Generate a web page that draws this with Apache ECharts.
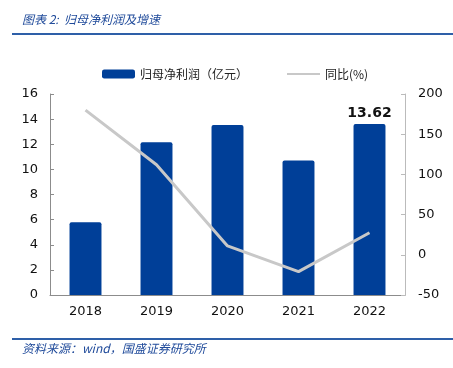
<!DOCTYPE html>
<html><head><meta charset="utf-8">
<script src="https://cdn.jsdelivr.net/npm/echarts@6/dist/echarts.min.js"></script>
<style>html,body{margin:0;padding:0;background:#fff}#c{width:453px;height:368px}</style>
</head><body><div id="c"></div>
<script>
const categories = ['2018','2019','2020','2021','2022'];
const profit = [5.8, 12.15, 13.53, 10.7, 13.62];
const growth = [180, 112, 11, -21, 27.5];
const leftTicks = [0, 16, 2];
const rightTicks = [-50, 200, 50];
const seriesNames = ['归母净利润（亿元）', '同比(%)'];

const chart = echarts.init(document.getElementById('c'));
const blue = '#003F98';
const titleBlue = '#1F4A9A';
const axisGray = '#8C8C8C';
const font = '"Noto Sans CJK SC", "DejaVu Sans", sans-serif';
chart.setOption({
  animation: false,
  textStyle: { fontFamily: font },
  graphic: [
    { type: 'text', left: 22, top: 13, style: { text: '图表 2:  归母净利润及增速', fill: titleBlue, font: 'italic 12px "Noto Sans CJK SC"' } },
    { type: 'rect', shape: { x: 12, y: 33, width: 441, height: 2 }, style: { fill: '#2E5FA8' } },
    { type: 'rect', shape: { x: 12, y: 338, width: 441, height: 2 }, style: { fill: '#2E5FA8' } },
    { type: 'text', left: 22, top: 342, style: { text: '资料来源：wind，国盛证券研究所', fill: titleBlue, font: 'italic 12px "Noto Sans CJK SC"' } }
  ],
  legend: {
    top: 63, left: 97,
    itemGap: 38, itemWidth: 33, itemHeight: 9,
    textStyle: { fontSize: 12, color: '#222', fontFamily: font },
    data: [
      { name: seriesNames[0], icon: 'roundRect' },
      { name: seriesNames[1], itemStyle: { opacity: 0 } }
    ]
  },
  grid: { left: 50, right: 48, top: 94, bottom: 73 },
  xAxis: {
    type: 'category', data: categories, boundaryGap: true,
    axisLine: { lineStyle: { color: axisGray } },
    axisTick: { inside: true, length: 4, lineStyle: { color: axisGray } },
    axisLabel: { fontSize: 13, color: '#111', margin: 10, fontFamily: '"DejaVu Sans", sans-serif' }
  },
  yAxis: [
    {
      type: 'value', min: leftTicks[0], max: leftTicks[1], interval: leftTicks[2],
      splitLine: { show: false },
      axisLine: { show: true, lineStyle: { color: axisGray } },
      axisTick: { show: true, inside: true, length: 4, lineStyle: { color: axisGray } },
      axisLabel: { fontSize: 13, color: '#111', margin: 12, fontFamily: '"DejaVu Sans", sans-serif' }
    },
    {
      type: 'value', min: rightTicks[0], max: rightTicks[1], interval: rightTicks[2],
      splitLine: { show: false },
      axisLine: { show: true, lineStyle: { color: '#BBBBBB' } },
      axisTick: { show: true, inside: true, length: 4, lineStyle: { color: '#BBBBBB' } },
      axisLabel: { fontSize: 13, color: '#111', margin: 13, fontFamily: '"DejaVu Sans", sans-serif' }
    }
  ],
  series: [
    {
      name: seriesNames[0], type: 'bar', data: profit, barWidth: '45%',
      itemStyle: { color: blue, borderRadius: [2, 2, 0, 0] },
      label: {
        show: true, position: 'top', distance: 4,
        fontSize: 14, fontWeight: 'bold', color: '#111', fontFamily: '"DejaVu Sans", sans-serif',
        formatter: p => p.dataIndex === profit.length - 1 ? p.value.toFixed(2) : ''
      }
    },
    {
      name: seriesNames[1], type: 'line', yAxisIndex: 1, data: growth,
      symbol: 'none', lineStyle: { color: '#C8C8C8', width: 3 },
      itemStyle: { color: '#C8C8C8' }
    }
  ]
});
</script></body></html>
